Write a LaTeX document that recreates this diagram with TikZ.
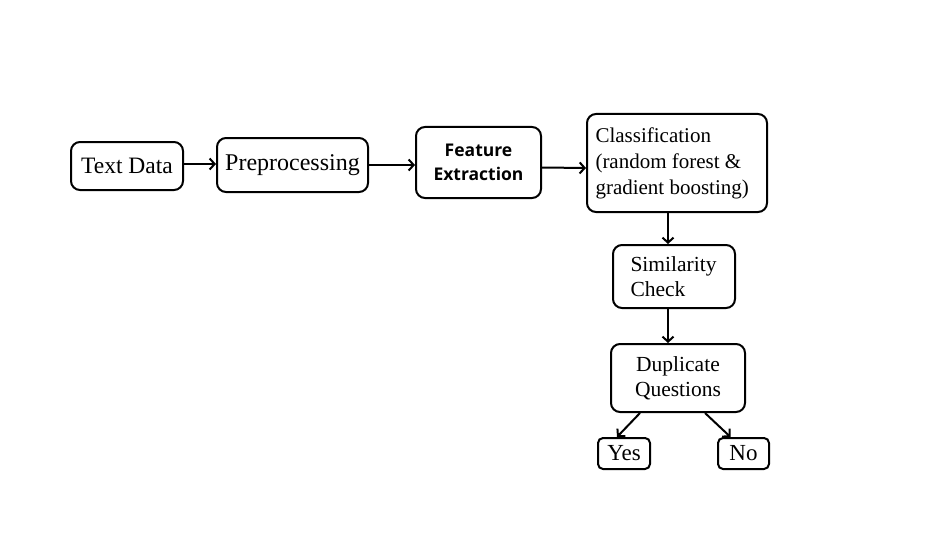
\documentclass[tikz,border=0pt]{standalone}
\usepackage{fontspec}
\setmainfont{Liberation Serif}
\newfontfamily\boldsans{Open Sans}
\usetikzlibrary{arrows.meta,calc}
\begin{document}
\begin{tikzpicture}[x=1pt,y=-1pt,
  box/.style={draw=black, line width=2pt, rounded corners=9pt, inner sep=0pt, align=center},
  conn/.style={line width=2pt, -{Straight Barb[length=5pt,width=11pt]}}]
\useasboundingbox (0,0) rectangle (931,559);
\node[box, minimum width=112pt, minimum height=48pt, font=\fontsize{23.5}{26}\selectfont] (td) at (127,166) {Text Data};
\node[box, minimum width=151pt, minimum height=54pt, font=\fontsize{24}{26}\selectfont] (pp) at (292.5,165) {Preprocessing};
\node[box, minimum width=125pt, minimum height=71pt, font=\boldsans\bfseries\fontsize{17.5}{24}\selectfont] (fe) at (478.5,162.5) {Feature\\Extraction};
\node[box, minimum width=180pt, minimum height=98pt, align=flush left, text width=163pt, font=\fontsize{21}{26}\selectfont] (cl) at (677,163) {Classification\\(random forest \&\\gradient boosting)};
\node[box, minimum width=122pt, minimum height=63pt, align=flush left, text width=87pt, font=\fontsize{21.5}{25}\selectfont] (sc) at (674,276.5) {Similarity\\Check};
\node[box, minimum width=134pt, minimum height=68pt, font=\fontsize{21.5}{25}\selectfont] (dq) at (678,378) {Duplicate\\Questions};
\node[box, rounded corners=5pt, minimum width=52pt, minimum height=31pt, font=\fontsize{23}{25}\selectfont] (ys) at (624,453.5) {Yes};
\node[box, rounded corners=5pt, minimum width=51pt, minimum height=31pt, font=\fontsize{23}{25}\selectfont] (no) at (743.5,453.5) {No};
\draw[conn] ($(td.east)+(0,-2)$) -- ($(pp.west)+(0,-1)$);
\draw[conn] (pp.east) -- (pp.east -| fe.west);
\draw[conn] ($(fe.east)+(0,5)$) -- ($(cl.west)+(0,5)$);
\draw[conn] ($(cl.south)+(-9,0)$) -- ($(sc.north)+(-6,0)$);
\draw[conn] ($(sc.south)+(-6,0)$) -- ($(dq.north)+(-10,0)$);
\draw[conn] ($(dq.south)+(-38,0)$) -- ($(ys.north)+(-7,0)$);
\draw[conn] ($(dq.south)+(27,0)$) -- ($(no.north)+(-13,0)$);
\end{tikzpicture}
\end{document}
